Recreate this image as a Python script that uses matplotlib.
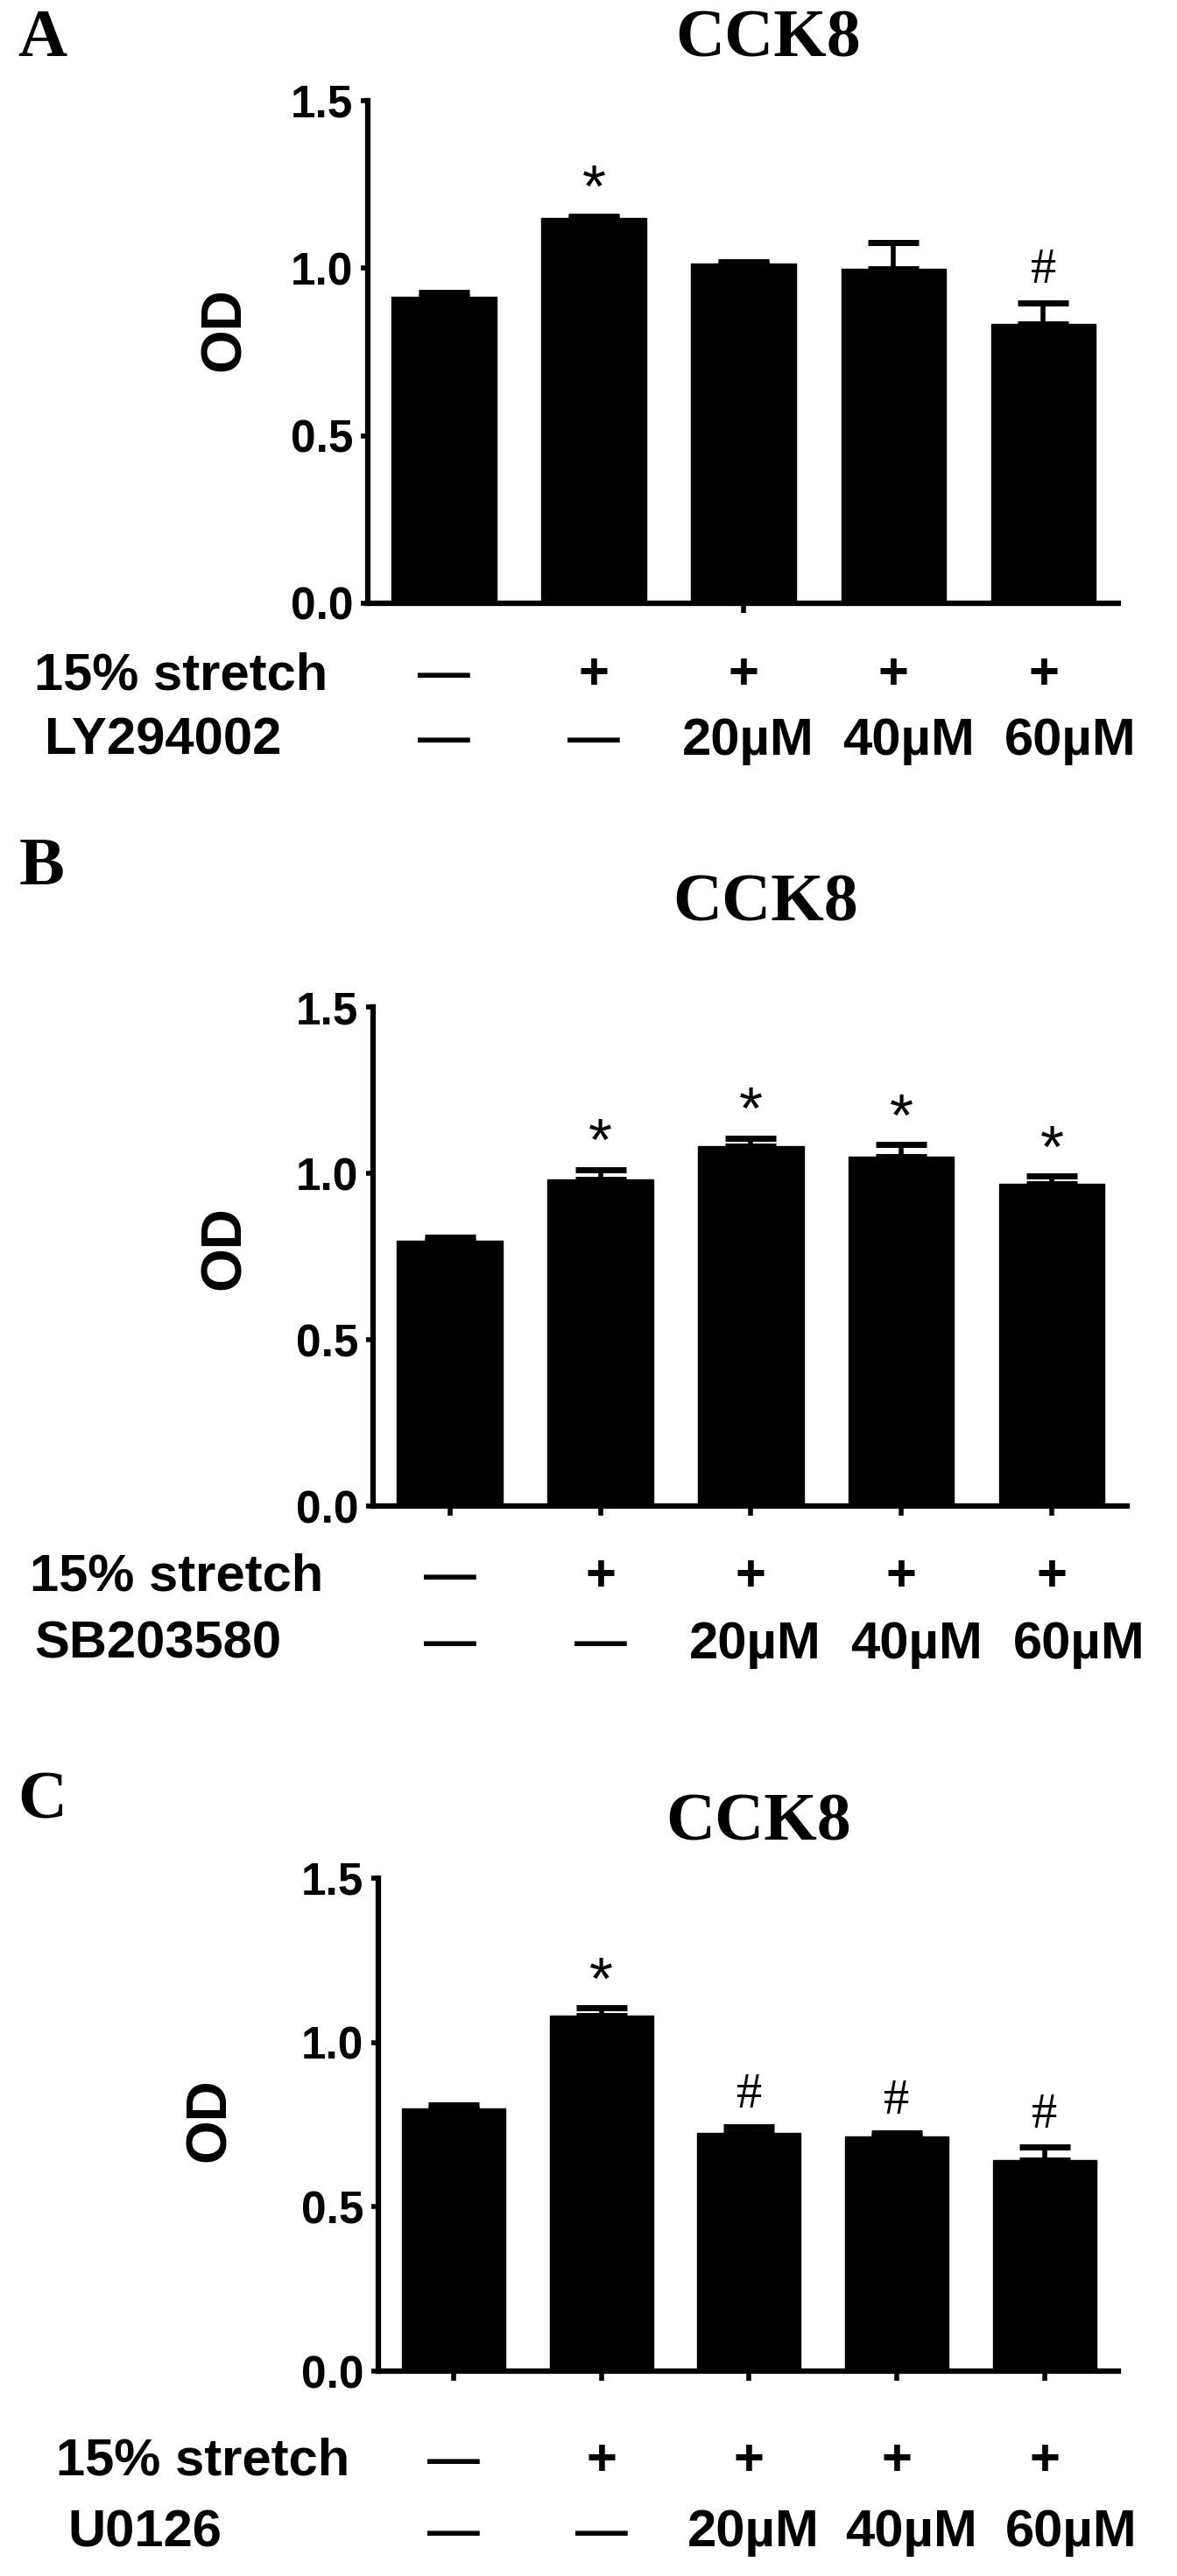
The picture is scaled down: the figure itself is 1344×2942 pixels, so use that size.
import matplotlib
matplotlib.use("Agg")
import matplotlib.pyplot as plt

plt.rcParams['font.family'] = ['Liberation Sans', 'DejaVu Sans']

W, H = 1344, 2942

# data
stretch_row = ["—", "+", "+", "+", "+"]
dose_row = ["—", "—", "20µM", "40µM", "60µM"]
inhibitors = ["LY294002", "SB203580", "U0126"]
panel_letters = ["A", "B", "C"]

od_ly = [0.915, 1.150, 1.014, 0.998, 0.834]
err_ly = [0.013, 0.006, 0.004, 0.078, 0.063]
marks_ly = ["", "*", "", "", "#"]

od_sb = [0.797, 0.981, 1.081, 1.049, 0.968]
err_sb = [0.011, 0.030, 0.025, 0.037, 0.024]
marks_sb = ["", "*", "*", "*", "*"]

od_u0 = [0.800, 1.081, 0.726, 0.714, 0.643]
err_u0 = [0.009, 0.025, 0.018, 0.012, 0.040]
marks_u0 = ["", "*", "#", "#", "#"]

yticks = [0.0, 0.5, 1.0, 1.5]

# layout in pixels: axes box, letter, title, OD label, label rows
panels = [
    dict(box=(420, 1277, 115, 689), letter=(48, 46), title=(877, 46), od=(257, 376),
         rows=(772, 846), row_x=(39, 51), xticks=[2]),
    dict(box=(426, 1287, 1150, 1720), letter=(48, 991), title=(874, 1033), od=(257, 1425),
         rows=(1801, 1878), row_x=(34, 39), xticks=[0, 1, 2, 3, 4]),
    dict(box=(432, 1277, 2145, 2708), letter=(48, 2058), title=(866, 2083), od=(240, 2421),
         rows=(2811, 2893), row_x=(64, 77), xticks=[0, 1, 2, 3, 4]),
]
dose_shift = [0.0, 0.0, 0.03, 0.1, 0.18]


def fx(px):
    return px / W


def fy(py):
    return 1 - py / H


fig = plt.figure(figsize=(W / 100, H / 100), dpi=100)

data = [(od_ly, err_ly, marks_ly), (od_sb, err_sb, marks_sb), (od_u0, err_u0, marks_u0)]

for p, (od, err, marks), inhib, letter in zip(panels, data, inhibitors, panel_letters):
    l, r, t, b = p["box"]
    ax = fig.add_axes([fx(l), fy(b), (r - l) / W, (b - t) / H])
    x = list(range(len(od)))
    ax.bar(x, od, width=0.7, color="black", edgecolor="black", zorder=2)
    ax.errorbar(x, od, yerr=[[0] * len(err), err], fmt="none", ecolor="black",
                elinewidth=4, capsize=21, capthick=5, zorder=3)
    for i in x:
        if marks[i] == "*":
            ax.text(i, od[i] + err[i] + 0.075, "*", ha="center", va="center",
                    fontsize=50, family=["Liberation Sans", "DejaVu Sans"])
        elif marks[i] == "#":
            ax.text(i, od[i] + err[i] + 0.095, "#", ha="center", va="center",
                    fontsize=42, family=["Liberation Serif", "DejaVu Serif"])

    ax.set_xlim(-0.51, 4.5)
    ax.set_ylim(0, 1.5)
    ax.set_yticks(yticks)
    ax.set_yticklabels([f"{v:.1f}" for v in yticks], fontsize=37, fontweight="bold")
    ax.set_xticks(p["xticks"])
    ax.set_xticklabels([])
    ax.tick_params(axis="y", length=6, width=4, pad=6)
    ax.tick_params(axis="x", length=8, width=4)
    for s in ["top", "right"]:
        ax.spines[s].set_visible(False)
    for s in ["left", "bottom"]:
        ax.spines[s].set_linewidth(4.5)

    # condition rows below the bars
    trans = ax.get_xaxis_transform()
    y1 = (b - p["rows"][0]) / (b - t)
    y2 = (b - p["rows"][1]) / (b - t)
    for i in x:
        ax.text(i, y1, stretch_row[i], transform=trans, ha="center", va="center",
                fontsize=43, fontweight="bold", clip_on=False)
        ax.text(i + dose_shift[i], y2, dose_row[i], transform=trans, ha="center", va="center",
                fontsize=43, fontweight="bold", clip_on=False)
    fig.text(fx(p["row_x"][0]), fy(p["rows"][0]), "15% stretch", ha="left", va="center",
             fontsize=43, fontweight="bold")
    fig.text(fx(p["row_x"][1]), fy(p["rows"][1]), inhib, ha="left", va="center",
             fontsize=43, fontweight="bold")

    fig.text(fx(p["od"][0]), fy(p["od"][1]), "OD", rotation=90, ha="center", va="center",
             fontsize=46, fontweight="bold")
    fig.text(fx(p["title"][0]), fy(p["title"][1]), "CCK8", ha="center", va="center",
             fontsize=56, fontweight="bold", family=["Liberation Serif", "DejaVu Serif"])
    fig.text(fx(p["letter"][0]), fy(p["letter"][1]), letter, ha="center", va="center",
             fontsize=56, fontweight="bold", family=["Liberation Serif", "DejaVu Serif"])

fig.savefig("out.png", dpi=100, facecolor="white")
